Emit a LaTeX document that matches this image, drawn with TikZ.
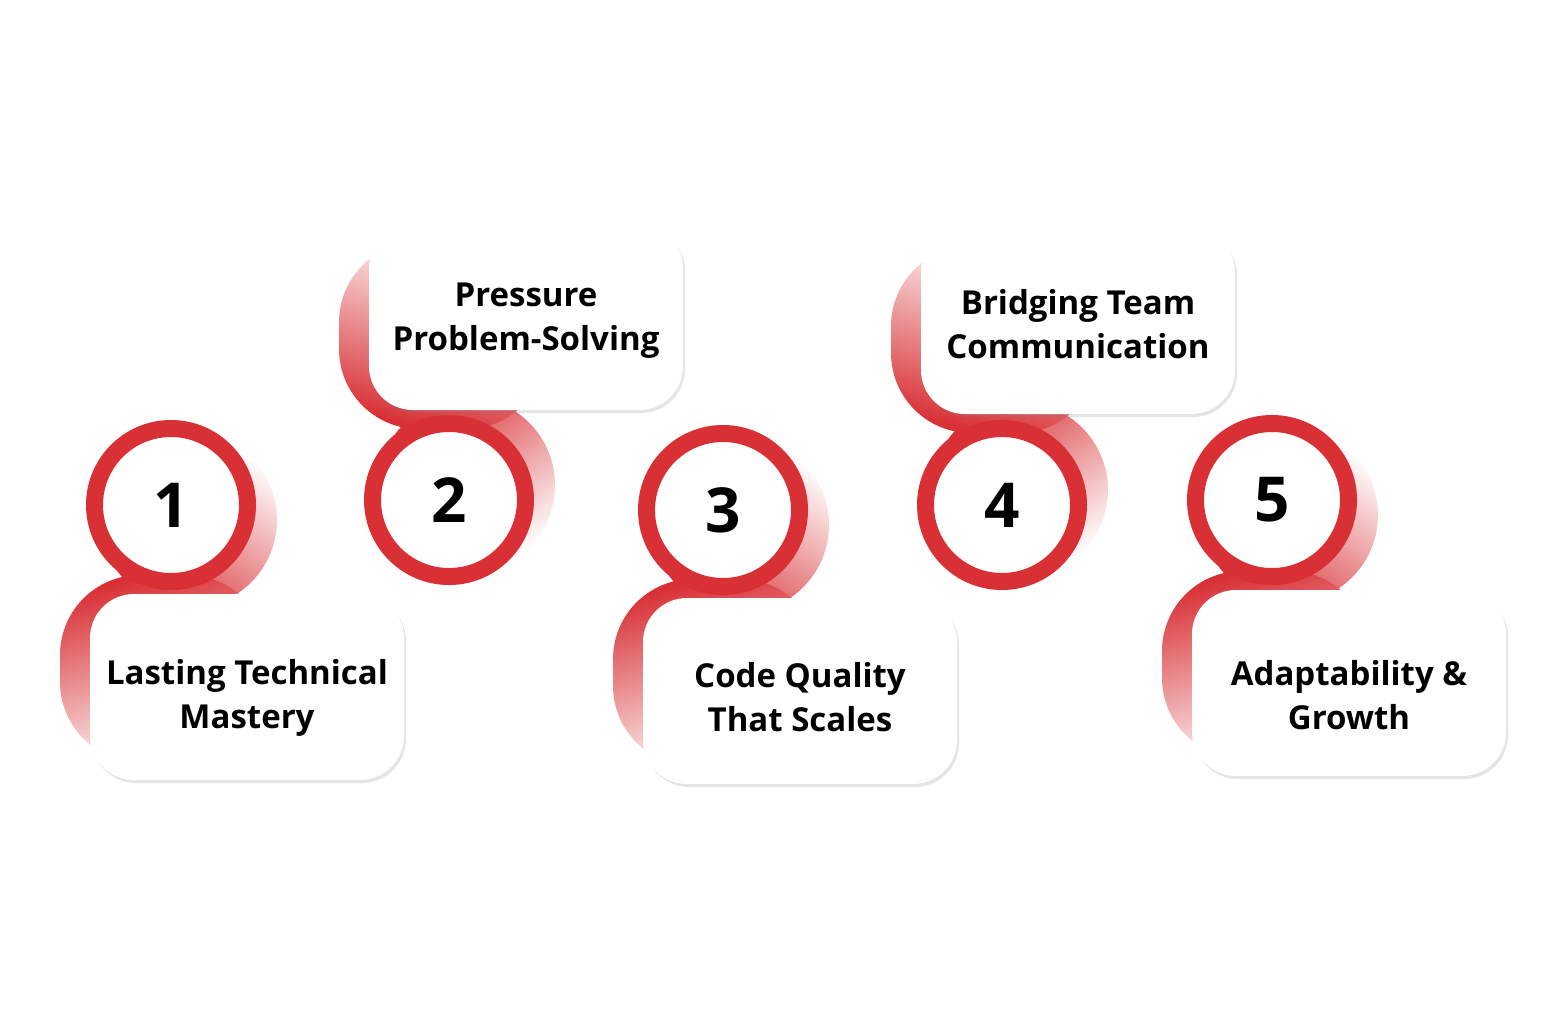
\documentclass[tikz,border=0pt]{standalone}
\usepackage{fontspec}
\setmainfont{Open Sans}
\usetikzlibrary{shadows,fadings}
\definecolor{myred}{HTML}{D83035}
\tikzset{
  ring/.style={circle, draw=myred, line width=8.5pt, fill=white, minimum size=76.5pt, inner sep=0pt,
     font=\bfseries\fontsize{31}{31}\selectfont, drop shadow={shadow xshift=1pt,shadow yshift=-1.5pt,opacity=0.35}},
  card/.style={rectangle, rounded corners=22pt, fill=white, minimum width=157pt, minimum height=93pt,
     drop shadow={shadow xshift=1pt,shadow yshift=-1.5pt,opacity=0.2}},
  cardtext/.style={align=center, font=\bfseries\fontsize{16.5}{22}\selectfont, inner sep=0pt},
}
\begin{document}
\begin{tikzpicture}[x=0.5pt,y=0.5pt]
\useasboundingbox[fill=white] (0,0) rectangle (1552,-1008);
% ---- swooshes, lower cards (1,3,5)
\foreach \cx/\cy/\bx/\by in {171/-505/247/-687, 723/-510/800/-691, 1272/-500/1349/-683}{
  \shade[top color=white, middle color=myred!75, bottom color=myred, shading angle=-35] (\cx+18,\cy-15) circle (88);
  \shade[top color=myred, bottom color=white, shading angle=15, rounded corners=40pt]
     (\bx-187,\by+112) rectangle (\bx+20,\by-75);
}
% ---- swooshes, upper cards (2,4)
\foreach \cx/\cy/\bx/\by in {449/-500/526/-317, 1002/-505/1078/-321}{
  \shade[top color=myred, middle color=myred!75, bottom color=white, shading angle=35] (\cx+18,\cy+15) circle (88);
  \shade[top color=white, bottom color=myred, shading angle=-15, rounded corners=40pt]
     (\bx-187,\by+75) rectangle (\bx+20,\by-112);
}
% ---- cards
\node[card] (c1) at (247,-687) {};
\node[card] (c2) at (526,-317) {};
\node[card] (c3) at (800,-691) {};
\node[card] (c4) at (1078,-321) {};
\node[card] (c5) at (1349,-683) {};
\node[cardtext] (t1) at ([yshift=-5.5pt]c1.center) {Lasting Technical\\Mastery};
\node[cardtext] (t2) at ([yshift=-2pt]c2.center) {Pressure\\Problem-Solving};
\node[cardtext] (t3) at ([yshift=-3pt]c3.center) {Code Quality\\That Scales};
\node[cardtext] (t4) at ([yshift=-1.5pt]c4.center) {Bridging Team\\Communication};
\node[cardtext] (t5) at ([yshift=-6pt]c5.center) {Adaptability \&\\Growth};
% ---- rings
\node[ring] (r1) at (171,-505) {1};
\node[ring] (r2) at (449,-500) {2};
\node[ring] (r3) at (723,-510) {3};
\node[ring] (r4) at (1002,-505) {4};
\node[ring] (r5) at (1272,-500) {5};
\end{tikzpicture}
\end{document}
